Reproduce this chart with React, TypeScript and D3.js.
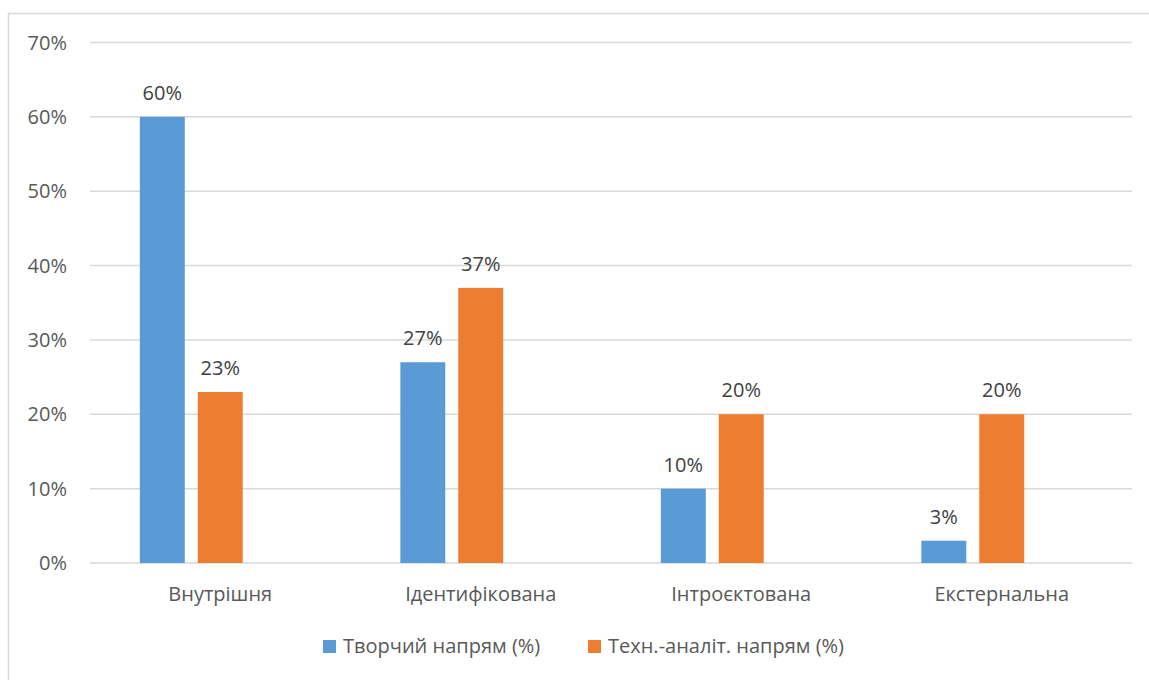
import React from "react";
import * as d3 from "d3";

const categories = ["Внутрішня", "Ідентифікована", "Інтроєктована", "Екстернальна"];
const creative = [60, 27, 10, 3];
const technical = [23, 37, 20, 20];
const seriesNames = ["Творчий напрям (%)", "Техн.-аналіт. напрям (%)"];
const yTicks = [0, 10, 20, 30, 40, 50, 60, 70];

const W = 1149;
const H = 680;
const plot = { left: 90, right: 1132, top: 42.5, bottom: 563 };
const colors = ["#5b9bd5", "#ed7d31"];
const font = "'Open Sans', sans-serif";
const fs = 20;

export default function App() {
  const x = d3
    .scaleBand<string>()
    .domain(categories)
    .range([plot.left, plot.right])
    .paddingInner(0)
    .paddingOuter(0);
  const y = d3.scaleLinear().domain([0, 70]).range([plot.bottom, plot.top]);

  // three slots per category (the third is an empty slot), bar 45 / gap 13
  const slot = d3
    .scaleBand<number>()
    .domain([0, 1, 2])
    .range([0, x.bandwidth()])
    .paddingInner(13 / 58)
    .paddingOuter(0.86);

  const series = [creative, technical];
  const legendX = [323, 588];

  return (
    <svg
      width={W}
      height={H}
      style={{ position: "absolute", left: 0, top: 0, background: "#fff" }}
      fontFamily={font}
    >
      <rect x={8.5} y={13.5} width={W + 10} height={H + 10} fill="#fff" stroke="#d9d9d9" strokeWidth={1.5} />
      {yTicks.map((t) => (
        <g key={t}>
          <line x1={plot.left} x2={plot.right} y1={y(t)} y2={y(t)} stroke="#d9d9d9" strokeWidth={1.5} />
          <text x={67} y={y(t) + 7} textAnchor="end" fontSize={fs} fill="#595959">
            {t}%
          </text>
        </g>
      ))}
      {series.map((vals, si) =>
        vals.map((v, ci) => {
          const bx = (x(categories[ci]) as number) + (slot(si) as number);
          const bw = slot.bandwidth();
          return (
            <g key={`${si}-${ci}`}>
              <rect x={bx} y={y(v)} width={bw} height={y(0) - y(v)} fill={colors[si]} />
              <text x={bx + bw / 2} y={y(v) - 17} textAnchor="middle" fontSize={fs} fill="#404040">
                {v}%
              </text>
            </g>
          );
        })
      )}
      {categories.map((c) => (
        <text
          key={c}
          x={(x(c) as number) + x.bandwidth() / 2}
          y={601}
          textAnchor="middle"
          fontSize={fs}
          fill="#595959"
        >
          {c}
        </text>
      ))}
      {seriesNames.map((n, i) => (
        <g key={n}>
          <rect x={legendX[i]} y={640} width={13} height={13} fill={colors[i]} />
          <text x={legendX[i] + 20} y={653} fontSize={fs} fill="#595959">
            {n}
          </text>
        </g>
      ))}
    </svg>
  );
}
